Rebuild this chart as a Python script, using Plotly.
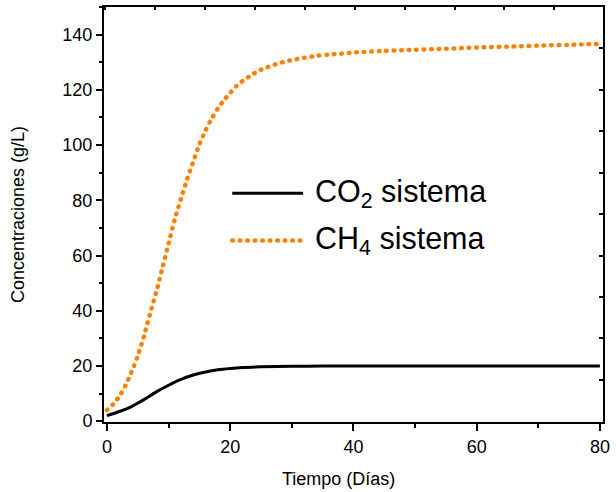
import plotly.graph_objects as go

# ---- data ----
ch4_days = [0, 1, 2, 3, 4, 5, 6, 7, 8, 9, 10, 11, 12, 13, 14, 15, 16, 17, 18, 19, 20,
            21, 22, 23, 24, 25, 26, 27, 28, 29, 30, 32, 34, 36, 38, 40, 45, 50, 55,
            60, 65, 70, 75, 80]
ch4_vals = [4.0, 6.1, 9.0, 12.9, 17.9, 23.7, 30.8, 38.9, 46.8, 55.5, 64.3, 73.1, 80.5,
            87.5, 94.0, 100.2, 105.3, 109.6, 113.2, 116.3, 118.9, 121.3, 123.2, 124.7,
            126.1, 127.3, 128.2, 129.0, 129.7, 130.3, 130.8, 131.6, 132.3, 132.8, 133.1,
            133.5, 134.1, 134.5, 134.9, 135.3, 135.65, 136.0, 136.3, 136.6]

co2_days = [0, 2, 4, 6, 8, 10, 12, 14, 16, 18, 20, 22, 25, 30, 35, 40, 50, 60, 70, 80]
co2_vals = [2.0, 3.5, 5.3, 7.8, 10.6, 13.0, 15.1, 16.7, 17.8, 18.6, 19.1, 19.45, 19.7,
            19.9, 19.95, 20.0, 20.0, 20.0, 20.0, 20.0]

legend_labels = ["CO<sub>2</sub> sistema", "CH<sub>4</sub> sistema"]
x_title = "Tiempo (Días)"
y_title = "Concentraciones (g/L)"

ORANGE = "#FF7F00"
FONT = "Liberation Sans, Arial, sans-serif"
DOT = "0.6px,6.9px"
DOT_W = 4.5

fig = go.Figure()
fig.add_trace(go.Scatter(x=co2_days, y=co2_vals, mode="lines", name="CO2 sistema",
                         line=dict(color="black", width=3, shape="spline", smoothing=0.8),
                         showlegend=False))
fig.add_trace(go.Scatter(x=ch4_days, y=ch4_vals, mode="lines", name="CH4 sistema",
                         line=dict(color=ORANGE, width=DOT_W, dash=DOT, shape="spline", smoothing=0.8),
                         showlegend=False))
# dummy trace to activate the mirrored top/right axes
fig.add_trace(go.Scatter(x=[], y=[], xaxis="x2", yaxis="y2", showlegend=False,
                         hoverinfo="skip"))

# manual legend (long line samples like the original)
lx0, lx1, ltx = 0.257, 0.399, 0.418
ly = [0.551, 0.4375]
fig.add_shape(type="line", xref="paper", yref="paper", x0=lx0, x1=lx1, y0=ly[0], y1=ly[0],
              line=dict(color="black", width=3))
fig.add_shape(type="line", xref="paper", yref="paper", x0=lx0, x1=lx1, y0=ly[1], y1=ly[1],
              line=dict(color=ORANGE, width=DOT_W, dash=DOT))
for lab, yy in zip(legend_labels, ly):
    fig.add_annotation(xref="paper", yref="paper", x=ltx, y=yy, text=lab,
                       showarrow=False, xanchor="left", yanchor="middle",
                       font=dict(size=30.5, color="black", family=FONT))

# x-axis title placed as in the original (slightly left of centre)
fig.add_annotation(xref="paper", yref="paper", x=0.47, y=-0.138, text=x_title,
                   showarrow=False, xanchor="center", yanchor="middle",
                   font=dict(size=18, color="black", family=FONT))

axis_common = dict(showline=True, linecolor="black", linewidth=2, showgrid=False,
                   zeroline=False, mirror=False)

fig.update_layout(
    width=616, height=492,
    margin=dict(l=104, r=6, t=7, b=70),
    paper_bgcolor="white", plot_bgcolor="white",
    font=dict(family=FONT, size=18, color="black"),
    xaxis=dict(range=[-0.48, 80.5], tickmode="linear", tick0=0, dtick=20,
               ticks="outside", ticklen=7, tickwidth=1.5, tickcolor="black",
               ticklabeloverflow="allow",
               minor=dict(ticks="outside", dtick=10, ticklen=4, tickwidth=1.5, tickcolor="black"),
               **axis_common),
    yaxis=dict(range=[-0.3, 150], tickmode="linear", tick0=0, dtick=20,
               ticks="outside", ticklen=6, tickwidth=1.5, tickcolor="black",
               ticklabeloverflow="allow",
               minor=dict(ticks="outside", dtick=10, ticklen=3, tickwidth=1.5, tickcolor="black"),
               title=dict(text=y_title, font=dict(size=18), standoff=33),
               **axis_common),
    xaxis2=dict(overlaying="x", side="top", range=[-0.48, 80.5], tickmode="linear",
                tick0=7.8, dtick=8.1, ticks="inside", ticklen=3, tickwidth=1.5,
                tickcolor="black", showticklabels=False, anchor="y",
                **axis_common),
    yaxis2=dict(overlaying="y", side="right", range=[-0.3, 150], tickmode="linear",
                tick0=0, dtick=15, ticks="inside", ticklen=4, tickwidth=1.5,
                tickcolor="black", showticklabels=False, anchor="x",
                **axis_common),
)

round_dots = """
document.body.style.margin='0';
document.body.style.overflow='hidden';
function roundDots(){
  document.querySelectorAll('path').forEach(function(p){
    var d = p.style.strokeDasharray || p.getAttribute('stroke-dasharray');
    if (d && d !== 'none' && d !== '') { p.style.strokeLinecap = 'round'; }
  });
}
roundDots();
var gd = document.getElementById('{plot_id}');
if (gd && gd.on) { gd.on('plotly_afterplot', roundDots); }
setTimeout(roundDots, 50);
"""

fig.write_html("out.html", config={"displayModeBar": False}, post_script=round_dots)
